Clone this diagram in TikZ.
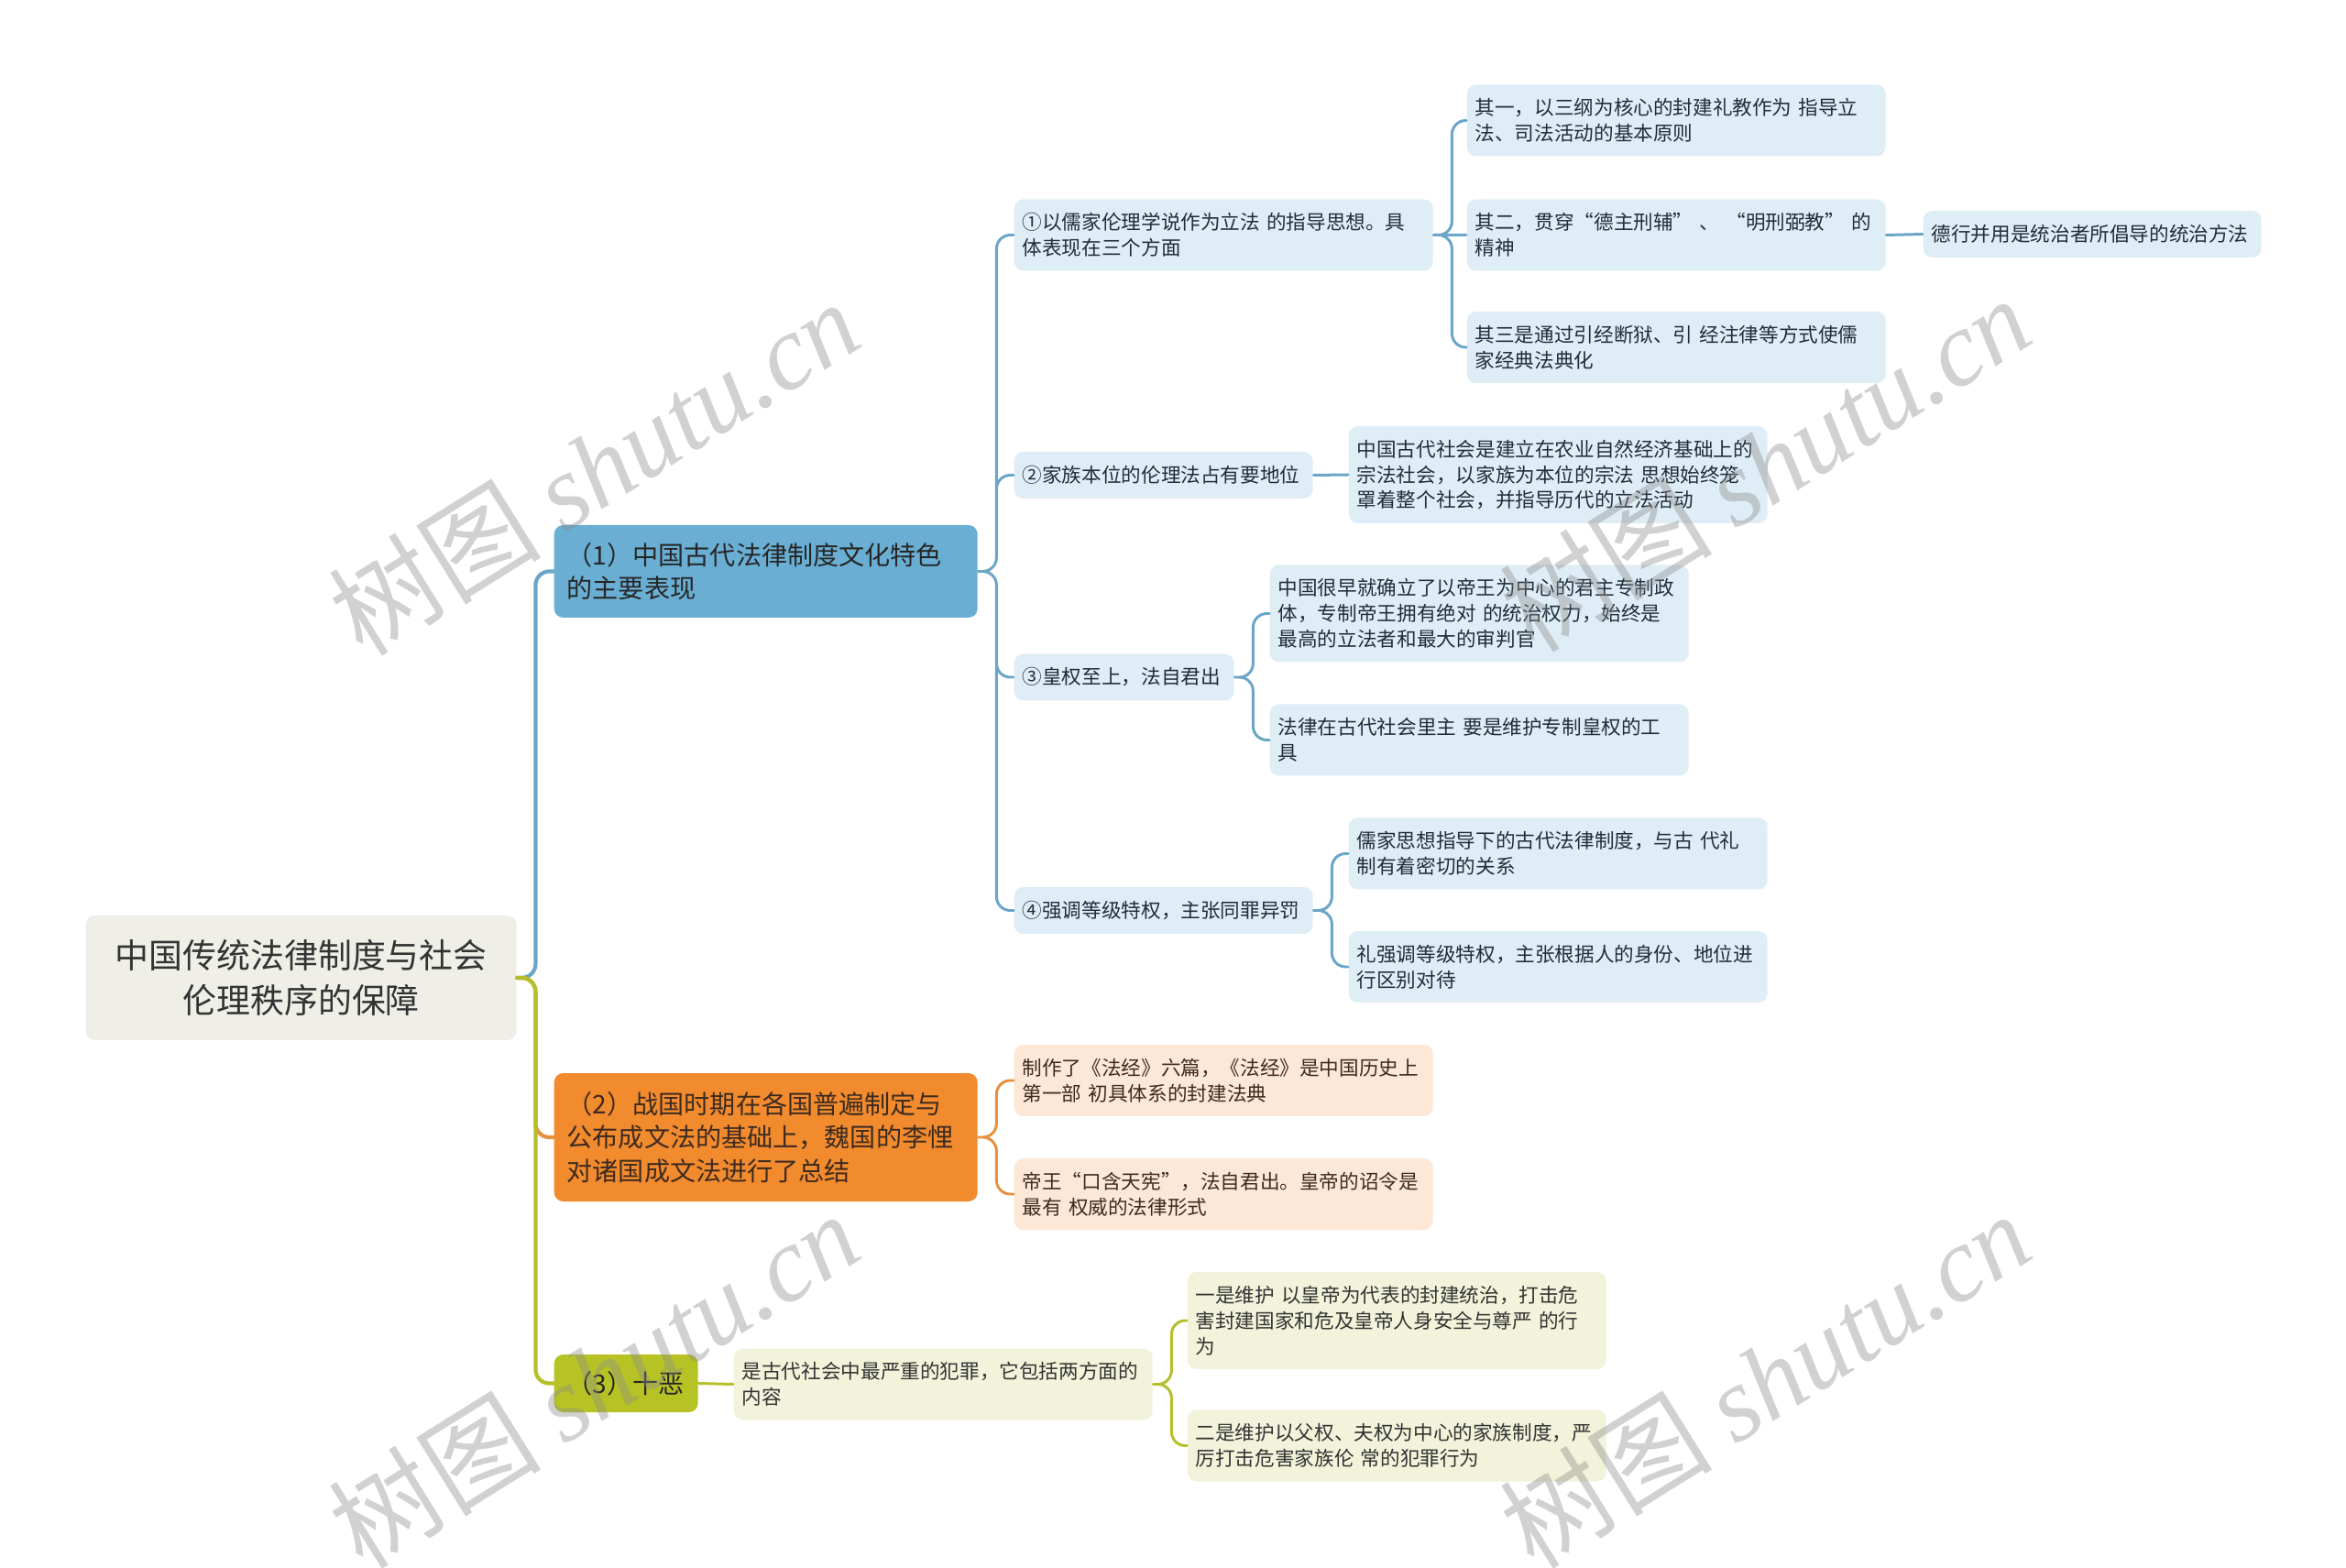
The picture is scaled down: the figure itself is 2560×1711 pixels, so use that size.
\documentclass[tikz,border=0pt]{standalone}
\usepackage{fontspec}
\setmainfont{Noto Sans CJK SC}
\newfontfamily\wmserif{Liberation Serif}
\definecolor{rootfill}{HTML}{EFEFE8}
\definecolor{bluemain}{HTML}{6AAED3}
\definecolor{blueleaf}{HTML}{DFEDF6}
\definecolor{blueline}{HTML}{6AA6C8}
\definecolor{bluetext}{HTML}{1F2F3A}
\definecolor{orgmain}{HTML}{F28A2E}
\definecolor{orgleaf}{HTML}{FDE7D7}
\definecolor{orgline}{HTML}{E6913F}
\definecolor{orgtext}{HTML}{3D2B1F}
\definecolor{ylwmain}{HTML}{B7C324}
\definecolor{ylwleaf}{HTML}{F2F3DA}
\definecolor{ylwline}{HTML}{B5BF2A}
\newcommand{\leaffont}{\fontsize{6.15}{7.9}\selectfont}
\newcommand{\topfont}{\fontsize{8}{10.4}\selectfont}
\begin{document}
\begin{tikzpicture}[x=0.1mm,y=-0.1mm,line join=round,line cap=round,
  box/.style={rounded corners=1mm,inner ysep=0pt,align=left,anchor=west},
  rootbox/.style={box,fill=rootfill,text=black!80,inner xsep=1.4mm,align=center,
    text width=44.2mm,minimum height=13.6mm,font=\fontsize{10.5}{13.9}\selectfont},
  topbox/.style={box,inner xsep=1.4mm,text width=43.4mm,font=\topfont,text=black!85},
  leaf/.style={box,inner xsep=0.9mm,text width=43.9mm,font=\leaffont},
  bleaf/.style={leaf,fill=blueleaf,text=bluetext},
  oleaf/.style={leaf,fill=orgleaf,text=orgtext},
  yleaf/.style={leaf,fill=ylwleaf,text=black!80},
  one/.style={minimum height=5.1mm},
  two/.style={minimum height=7.8mm},
  three/.style={minimum height=10.6mm},
  elbow/.style={rounded corners=1.5mm,to path={-- ++(20,0) |- (\tikztotarget)}},
  thick link/.style={line width=1.2pt,draw=#1},
  link/.style={line width=0.85pt,draw=#1},
  wm/.style={rotate=32,text=black!45,opacity=0.4,font=\fontsize{33}{38}\selectfont}]
\fill[white] (0,0) rectangle (2560,1711);
\useasboundingbox (0,0) rectangle (2560,1711);

\node[rootbox] (root) at (93,1067) {中国传统法律制度与社会\\伦理秩序的保障};
\node[topbox,fill=bluemain,minimum height=10.1mm] (n1) at (604,623.5) {（1）中国古代法律制度文化特色\\的主要表现};
\node[topbox,fill=orgmain,minimum height=14mm,text=orgtext] (n2) at (604,1241) {（2）战国时期在各国普遍制定与\\公布成文法的基础上，魏国的李悝\\对诸国成文法进行了总结};
\node[topbox,fill=ylwmain,minimum height=6.3mm,text width=12.9mm] (n3) at (604,1509.5) {（3）十恶};

\node[bleaf,two] (a1) at (1106,256.5) {①以儒家伦理学说作为立法 的指导思想。具\\体表现在三个方面};
\node[bleaf,two] (b1) at (1600,131.5) {其一，以三纲为核心的封建礼教作为 指导立\\法、司法活动的基本原则};
\node[bleaf,two] (b2) at (1600,256.5) {其二，贯穿“德主刑辅” 、 “明刑弼教” 的\\精神};
\node[bleaf,two] (b3) at (1600,379) {其三是通过引经断狱、引 经注律等方式使儒\\家经典法典化};
\node[bleaf,one,text width=35.1mm] (c1) at (2098,255.5) {德行并用是统治者所倡导的统治方法};
\node[bleaf,one,text width=30.8mm] (a2) at (1106,518.5) {②家族本位的伦理法占有要地位};
\node[bleaf,three] (b4) at (1471,518) {中国古代社会是建立在农业自然经济基础上的\\宗法社会，以家族为本位的宗法 思想始终笼\\罩着整个社会，并指导历代的立法活动};
\node[bleaf,one,text width=22.2mm] (a3) at (1106,739) {③皇权至上，法自君出};
\node[bleaf,three] (b5) at (1385,669.5) {中国很早就确立了以帝王为中心的君主专制政\\体，专制帝王拥有绝对 的统治权力，始终是\\最高的立法者和最大的审判官};
\node[bleaf,two] (b6) at (1385,807.5) {法律在古代社会里主 要是维护专制皇权的工\\具};
\node[bleaf,one,text width=30.8mm] (a4) at (1106,993.5) {④强调等级特权，主张同罪异罚};
\node[bleaf,two] (b7) at (1471,931.5) {儒家思想指导下的古代法律制度，与古 代礼\\制有着密切的关系};
\node[bleaf,two] (b8) at (1471,1055) {礼强调等级特权，主张根据人的身份、地位进\\行区别对待};

\node[oleaf,two] (a5) at (1106,1179) {制作了《法经》六篇，《法经》是中国历史上\\第一部 初具体系的封建法典};
\node[oleaf,two] (a6) at (1106,1303) {帝王“口含天宪”，法自君出。皇帝的诏令是\\最有 权威的法律形式};

\node[yleaf,two] (a7) at (800,1510.5) {是古代社会中最严重的犯罪，它包括两方面的\\内容};
\node[yleaf,three] (b9) at (1295,1441) {一是维护 以皇帝为代表的封建统治，打击危\\害封建国家和危及皇帝人身安全与尊严 的行\\为};
\node[yleaf,two] (b10) at (1295,1577.5) {二是维护以父权、夫权为中心的家族制度，严\\厉打击危害家族伦 常的犯罪行为};

\draw[thick link=blueline] (root.east) to[elbow] (n1.west);
\draw[thick link=orgline] (root.east) to[elbow] (n2.west);
\draw[thick link=ylwline] (root.east) to[elbow] (n3.west);

\draw[link=blueline] (n1.east) to[elbow] (a1.west) (n1.east) to[elbow] (a2.west)
  (n1.east) to[elbow] (a3.west) (n1.east) to[elbow] (a4.west);
\draw[link=blueline] (a1.east) to[elbow] (b1.west) (a1.east) to[elbow] (b3.west);
\draw[link=blueline] (a1.east) -- (b2.west) (b2.east) -- (c1.west) (a2.east) -- (b4.west);
\draw[link=blueline] (a3.east) to[elbow] (b5.west) (a3.east) to[elbow] (b6.west);
\draw[link=blueline] (a4.east) to[elbow] (b7.west) (a4.east) to[elbow] (b8.west);
\draw[link=orgline] (n2.east) to[elbow] (a5.west) (n2.east) to[elbow] (a6.west);
\draw[link=ylwline] (n3.east) -- (a7.west);
\draw[link=ylwline] (a7.east) to[elbow] (b9.west) (a7.east) to[elbow] (b10.west);

\node[wm] (wm1) at (648,510) {树图 {\wmserif\itshape shutu.cn}};
\node[wm] (wm2) at (1926,506) {树图 {\wmserif\itshape shutu.cn}};
\node[wm] (wm3) at (648,1505) {树图 {\wmserif\itshape shutu.cn}};
\node[wm] (wm4) at (1926,1505) {树图 {\wmserif\itshape shutu.cn}};
\end{tikzpicture}
\end{document}
